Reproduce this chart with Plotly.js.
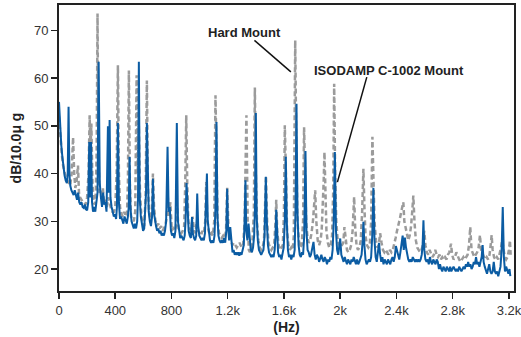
<!DOCTYPE html>
<html>
<head>
<meta charset="utf-8">
<script src="https://cdn.plot.ly/plotly-3.0.1.min.js"></script>
<style>
html,body{margin:0;padding:0;background:#fff;}
#chart{width:521px;height:337px;}
</style>
</head>
<body>
<div id="chart"></div>
<script>
// Hard Mount (gray dashed) — frequency (Hz) and level (dB)
const hardHz = [
  0,10,20,30,40,50,60,70,80,90,
  100,108,116,124,135,142,150,160,170,180,
  190,200,210,218,224,230,238,246,254,262,
  268,274,280,288,296,304,312,320,330,340,
  350,360,370,380,390,400,410,419,426,434,
  444,454,464,474,484,490,497,504,512,522,
  532,542,552,560,568,576,586,596,606,616,
  625,632,640,650,660,668,676,686,696,706,
  716,726,736,746,756,766,774,782,792,802,
  812,822,832,840,850,860,870,880,890,898,
  905,912,920,930,940,950,960,970,980,990,
  1000,1010,1020,1030,1040,1047,1054,1064,1074,1084,
  1094,1104,1113,1120,1128,1138,1148,1158,1168,1178,
  1188,1196,1204,1214,1224,1234,1244,1254,1264,1274,
  1284,1292,1300,1310,1320,1333,1342,1350,1358,1366,
  1376,1386,1393,1400,1408,1418,1428,1438,1448,1458,
  1466,1472,1480,1490,1500,1510,1520,1530,1540,1545,
  1552,1562,1572,1582,1592,1600,1606,1614,1622,1632,
  1642,1652,1662,1670,1680,1688,1696,1706,1716,1726,
  1736,1743,1750,1758,1766,1776,1786,1796,1806,1814,
  1822,1830,1840,1850,1860,1868,1876,1882,1888,1894,
  1902,1912,1922,1932,1942,1950,1957,1964,1972,1982,
  1992,2002,2012,2022,2030,2038,2048,2058,2068,2078,
  2088,2099,2106,2116,2126,2136,2146,2156,2165,2172,
  2180,2190,2200,2210,2220,2229,2236,2244,2254,2264,
  2274,2284,2294,2304,2314,2324,2334,2344,2354,2364,
  2374,2384,2394,2404,2414,2424,2434,2442,2449,2456,
  2464,2474,2484,2494,2504,2512,2520,2528,2538,2548,
  2558,2568,2578,2588,2598,2606,2616,2626,2636,2646,
  2656,2666,2676,2686,2696,2706,2716,2726,2736,2746,
  2756,2766,2776,2788,2796,2806,2816,2826,2836,2846,
  2856,2866,2876,2886,2896,2906,2916,2925,2934,2944,
  2954,2964,2974,2984,2994,3002,3012,3022,3032,3042,
  3052,3062,3070,3077,3084,3094,3104,3114,3124,3134,
  3144,3152,3160,3170,3180,3190,3200,3207,3212
];
const hardDb = [
  52,47,44,41.5,40,39,38.5,38,37.5,40,
  47.6,40,37,38,41.7,36,35,34.5,34,34,
  33.5,35,40,52.2,45,50.5,38,34,33.5,36,
  45,73.5,45,36,36.5,35,37,34,34.5,33,
  35,34,32.5,32,32,33,40,62.7,40,33,
  31.5,31,32,31,32,38,61.6,38,31,30.5,
  30,32,60.6,40,50,36,31,29.5,29,35,
  59.5,38,32,30.5,32,40,33,30,29,29.5,
  28.5,29,28,28.5,29,31,35,31,34,28,
  28.5,28,29,33,28.5,28,27.5,28,29,38,
  52.2,38,30,28.5,28,31,28,27.5,30,28,
  27.5,27,28,27.5,30,38.2,31,28,27,27.5,
  27,30,56.4,40,30,27.5,27,26.5,27,26.5,
  28,37,30,27,26,25,25.5,25,24.5,25,
  25.5,25,24.5,25,30,52.2,30,24,23.5,24.5,
  26,32,58,40,30,26,24.5,24,24.5,26,
  32,39.5,30,25.5,24.5,24,24.5,25,30,34.5,
  28,25,24,24.5,25,32,50.1,40,28,25,
  24,24.5,24,27,67.9,45,30,26,24.5,25,
  30,49.7,38,30,27,25.5,26,27.5,30,33,
  36.5,30,26,25,26,28,33,38,44.5,34,
  28,25.5,24.5,25,27,36,58.8,40,30,26,
  25,24.5,25,25.5,28.8,26,24,23.5,24,25,
  28,35.1,29,25,24,24.5,26,32,41,33,
  27,25,24.5,25,30,47.7,38,30,26,24.5,
  25,27.5,25.5,24,23.5,24,23.5,23,24,23.5,
  24,25,26.5,28,29,30.5,32,33,34,30,
  29,27.5,26,27,29,32,35.4,30,26,24.5,
  24,23.5,24,25,28,25,23.5,23,24,23,
  22.5,23,24,23,22.5,23,22,22.5,22,22.5,
  22,23,23.5,25.3,23,22,22.5,23.5,22.5,22,
  21.5,22,22.5,22,22.5,23,25,28.8,24,23,
  22.5,23,23.5,24.5,27.1,24,23,22.5,22,22.5,
  22,23,25,27.1,24,22.5,22,22.5,22,23,
  24.5,26,24,22.5,22,22.5,24,26,23
];

// ISODAMP C-1002 Mount (blue solid) — frequency (Hz) and level (dB)
const isoHz = [
  0,8,16,24,32,40,48,56,62,68,
  74,80,88,96,104,112,120,128,136,144,
  152,160,168,176,184,192,200,208,215,221,
  228,235,242,250,258,266,274,282,290,298,
  306,314,322,330,338,348,354,360,366,374,
  382,390,398,406,412,419,426,434,442,450,
  458,466,474,482,490,496,502,508,516,524,
  532,540,548,556,562,568,574,582,590,598,
  606,612,619,625,631,638,646,654,662,668,
  674,682,690,698,706,714,722,730,738,746,
  754,762,772,780,788,796,804,812,820,828,
  838,846,854,862,870,878,886,894,900,907,
  914,922,930,938,946,952,960,968,976,983,
  990,998,1006,1014,1022,1030,1038,1046,1052,1058,
  1066,1074,1082,1090,1098,1106,1113,1120,1127,1134,
  1142,1150,1158,1166,1174,1182,1190,1196,1202,1210,
  1218,1226,1234,1242,1250,1258,1266,1274,1282,1290,
  1298,1306,1314,1320,1326,1332,1340,1348,1356,1364,
  1372,1380,1388,1394,1400,1406,1414,1422,1430,1438,
  1446,1454,1462,1471,1478,1486,1494,1502,1510,1518,
  1526,1534,1540,1545,1550,1558,1566,1574,1582,1590,
  1598,1606,1613,1620,1628,1636,1644,1652,1660,1668,
  1676,1682,1689,1696,1704,1712,1720,1728,1736,1744,
  1753,1760,1768,1776,1784,1792,1800,1810,1818,1826,
  1834,1842,1850,1858,1866,1874,1882,1890,1898,1906,
  1914,1922,1930,1938,1946,1954,1962,1970,1978,1986,
  1994,2000,2008,2016,2024,2032,2040,2048,2056,2064,
  2072,2080,2088,2096,2104,2112,2120,2128,2136,2144,
  2152,2160,2165,2172,2180,2188,2196,2204,2212,2220,
  2228,2236,2244,2252,2260,2268,2276,2284,2292,2300,
  2308,2316,2324,2332,2340,2348,2356,2364,2372,2380,
  2388,2396,2404,2412,2420,2428,2436,2444,2452,2460,
  2468,2476,2484,2492,2500,2508,2516,2524,2532,2540,
  2548,2556,2564,2572,2580,2586,2592,2598,2606,2614,
  2622,2630,2638,2646,2654,2662,2670,2678,2686,2694,
  2702,2710,2718,2726,2734,2742,2750,2758,2766,2774,
  2782,2790,2798,2806,2814,2822,2830,2838,2846,2854,
  2862,2870,2878,2886,2894,2902,2910,2918,2926,2934,
  2942,2950,2958,2966,2974,2982,2990,2998,3006,3013,
  3020,3028,3036,3044,3052,3060,3068,3076,3084,3092,
  3100,3108,3116,3124,3132,3140,3148,3156,3164,3172,
  3180,3188,3196,3204,3210
];
const isoDb = [
  55,50,46,43.5,41,39.5,38.5,38,40,54,
  40,37.5,36.5,36,35.5,36.5,35,34.5,36,34,
  33.5,34,33,32.8,33.5,32.5,32.3,34,46.6,35,
  46.6,34,32,33,32,33.5,36,63.4,38,35,
  33,36,33.5,34,32,49.9,36,51.2,35,33,
  31.5,31,31.5,30.5,33,50.6,34,30.5,31,30,
  29.5,31,30,29.5,31,33,43.5,33,30,29,
  28.5,29.5,28.5,30,35,63.4,35,31,29,28,
  28.5,32,36,50.6,38,32,30,29,31,38.9,
  32,30,29,28,28.5,27.5,28,27,27.5,27,
  28,30,45.6,32,33,28,27,27.5,26.5,28,
  50.6,30,27.5,26.5,27,26.5,26,27,30,38,
  31,28,27,26.5,30.9,27.5,26.5,26,27,35.8,
  29,27,26.5,26,26.5,26,27.5,33,40,30,
  27,26,25.5,26,25.5,27,33,50.8,31,27,
  26,25.5,26,25.5,26.5,25.5,28,36.8,29,26,
  28.8,25,23.5,24,23,23.5,23,23.5,22.8,23.5,
  23,24,25,30,38.6,28,26,29.5,25.5,24,
  23.5,24.5,27,33,52.7,31,26,24,23.5,23,
  23.5,24,27,39.3,30,25,23.5,23,22.5,23,
  22.5,24,27,32.4,27,23.5,22.5,23,22,23,
  24.5,30,43.5,30,24,22.5,23,22,23,22.5,
  24,32,54.6,32,25,23,22.5,23.5,23,27,
  44.7,28,24,23.5,22.5,23,24.5,25.7,23,22,
  23,22.5,21.5,22.5,23,22,21.5,22.5,22,21,
  22,21.5,22.5,22,24,30,44.5,28,24,23,
  24.5,26.4,23,22,21.5,22.5,21.5,21,22,21.5,
  21,22,21.5,22.5,21.5,21,22,21,21.5,22.5,
  23,26,29.9,25,22,21,21.5,22,21.5,22.5,
  27,37,26,22.5,21.5,23,25.5,23,21.5,22.5,
  21,22,21.5,21,22,21.5,21,22,22.5,21.5,
  22.5,24.8,24,23,22,23.5,25,27,24,26.6,
  24.5,23,22,21.5,22,21.5,22.5,22,21.5,22,
  21.5,22,21.5,22,23,25,30.2,24,22,21.5,
  22,21,22.5,21.5,21,22,21.5,21,22,21.5,
  20,21,20,19.5,20.5,20,19.5,20.5,20,19.5,
  20.5,19.5,20,20.5,20,19.5,20,19.5,20.5,20,
  19.5,20,20.5,20,21,20.5,21.5,20.5,21,20,
  20.5,21.5,21,22.5,21,21.5,20.5,21.5,22.5,25,
  21.5,20.5,19.5,19,20,21,19.5,19,19.5,21.5,
  19.5,19,19.5,18.5,19.5,20.5,24,33,22.5,19.5,
  20.5,19.5,19,20,18.5
];

const xTickVals = [0,400,800,1200,1600,2000,2400,2800,3200];
const xTickText = ['0','400','800','1.2k','1.6k','2k','2.4k','2.8k','3.2k'];
const yTickVals = [20,30,40,50,60,70];

const traces = [
  {x: hardHz, y: hardDb, type: 'scatter', mode: 'lines', name: 'Hard Mount',
   line: {color: '#9b9b9b', width: 2.5, dash: '5px,3px'}},
  {x: isoHz, y: isoDb, type: 'scatter', mode: 'lines', name: 'ISODAMP C-1002 Mount',
   line: {color: '#0b5ca3', width: 2}}
];

const axisFont = {family: 'Liberation Sans, Arial, sans-serif', size: 13, color: '#333'};

const layout = {
  width: 521, height: 337,
  margin: {l: 59, r: 7, t: 5, b: 46},
  paper_bgcolor: '#fff', plot_bgcolor: '#fff',
  showlegend: false,
  xaxis: {
    range: [0, 3236], showgrid: false, zeroline: false,
    showline: true, mirror: true, linecolor: '#222', linewidth: 2,
    ticks: 'outside', ticklen: 6, tickwidth: 1.5, tickcolor: '#222',
    tickvals: xTickVals, ticktext: xTickText, tickfont: axisFont,
    ticklabeloverflow: 'allow',
    title: {text: '<b>(Hz)</b>', font: {family: 'Liberation Sans, Arial, sans-serif', size: 14, color: '#222'}, standoff: 6}
  },
  yaxis: {
    range: [15.4, 75.3], showgrid: false, zeroline: false,
    showline: true, mirror: true, linecolor: '#222', linewidth: 2,
    ticks: 'outside', ticklen: 6, tickwidth: 1.5, tickcolor: '#222',
    tickvals: yTickVals, tickfont: axisFont,
    title: {text: '<b>dB/10.0μ g</b>', font: {family: 'Liberation Sans, Arial, sans-serif', size: 14, color: '#222'}, standoff: 9}
  },
  annotations: [
    {x: 1317, y: 69.6, xref: 'x', yref: 'y', text: '<b>Hard Mount</b>', showarrow: false,
     font: {family: 'Liberation Sans, Arial, sans-serif', size: 13, color: '#222'}},
    {x: 2344, y: 61.6, xref: 'x', yref: 'y', text: '<b>ISODAMP C-1002 Mount</b>', showarrow: false,
     font: {family: 'Liberation Sans, Arial, sans-serif', size: 13, color: '#222'}}
  ],
  shapes: [
    {type: 'line', xref: 'x', yref: 'y', x0: 1390, y0: 67.9, x1: 1649, y1: 61.3, line: {color: '#111', width: 1.5}},
    {type: 'line', xref: 'x', yref: 'y', x0: 2189, y0: 60.2, x1: 1980, y1: 38.2, line: {color: '#111', width: 1.5}}
  ]
};

Plotly.newPlot('chart', traces, layout, {displayModeBar: false, staticPlot: true});
</script>
</body>
</html>
